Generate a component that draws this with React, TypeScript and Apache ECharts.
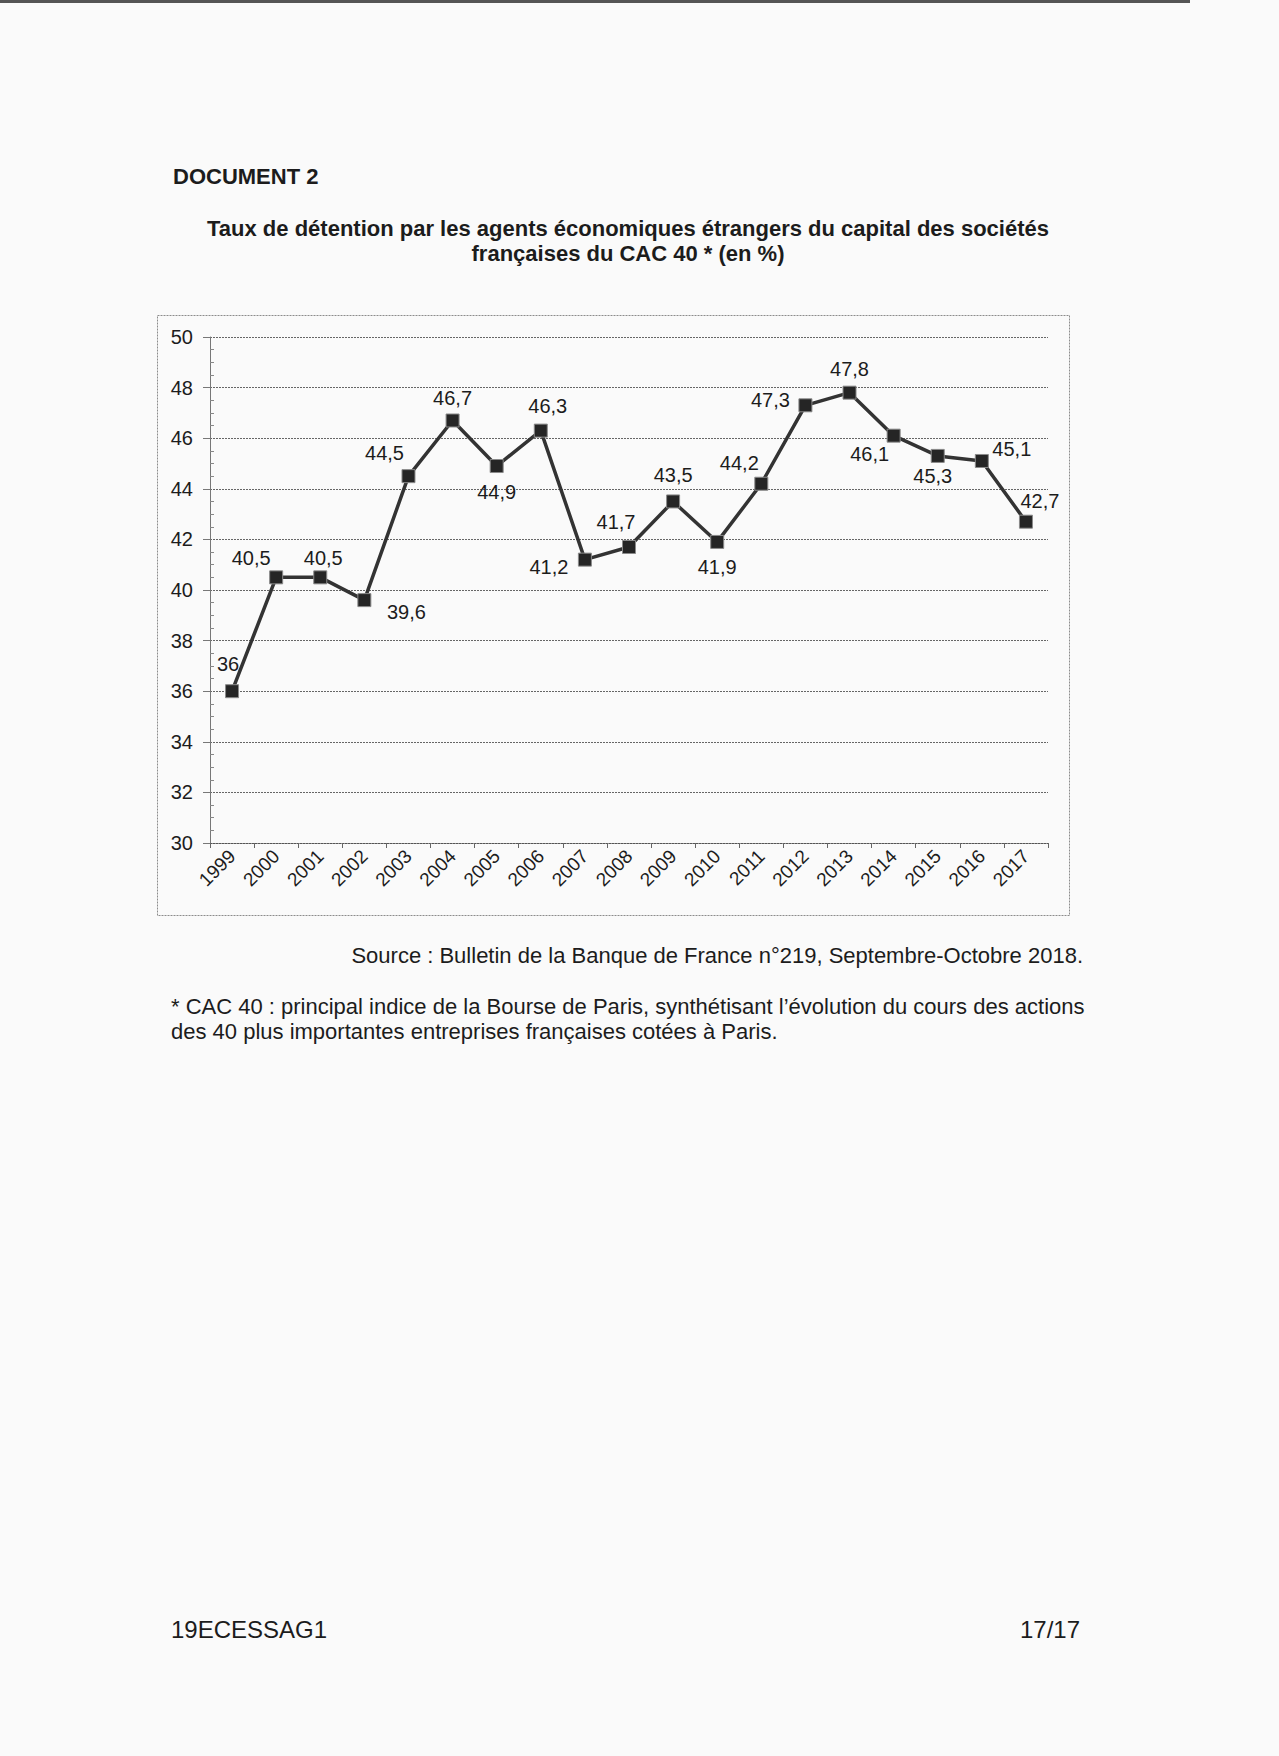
import React, { useEffect, useRef } from "react";
import * as echarts from "echarts";

const years = ["1999","2000","2001","2002","2003","2004","2005","2006","2007","2008","2009","2010","2011","2012","2013","2014","2015","2016","2017"];
const values = [36, 40.5, 40.5, 39.6, 44.5, 46.7, 44.9, 46.3, 41.2, 41.7, 43.5, 41.9, 44.2, 47.3, 47.8, 46.1, 45.3, 45.1, 42.7];
const labelOffsets: [number, number][] = [
  [-4, -27], [-25, -19], [3, -19], [42, 12], [-24, -23], [0, -22], [0, 26], [7, -25],
  [-36, 7], [-13, -25], [0, -26], [0, 25], [-22, -21], [-35, -5], [0, -24], [-24, 18],
  [-5, 20], [30, -12], [14, -21],
];
const yTicks = { min: 30, max: 50, interval: 2 };

const FONT = "'Liberation Sans', Arial, sans-serif";
const TXT = "#1c1c1c";

export default function App() {
  const ref = useRef<HTMLDivElement>(null);
  useEffect(() => {
    if (!ref.current) return;
    const chart = echarts.init(ref.current, undefined, { renderer: "svg" });
    const fmt = (v: number) => String(v).replace(".", ",");
    chart.setOption({
      animation: false,
      backgroundColor: "#fafafa",
      textStyle: { fontFamily: FONT },
      grid: { left: 210, top: 337, width: 838, height: 506, containLabel: false },
      xAxis: {
        type: "category",
        data: years,
        boundaryGap: true,
        axisLine: { lineStyle: { color: "#555", width: 1, type: [2, 1] } },
        axisTick: { show: true, length: 5, lineStyle: { color: "#666" } },
        axisLabel: { rotate: 45, fontSize: 19, color: TXT, margin: 10, fontFamily: FONT, interval: 0 },
        splitLine: { show: false },
      },
      yAxis: {
        type: "value",
        min: yTicks.min,
        max: yTicks.max,
        interval: yTicks.interval,
        axisLine: { show: true, lineStyle: { color: "#777", width: 1 } },
        axisTick: { show: true, length: 7, lineStyle: { color: "#777" } },
        minorTick: { show: true, splitNumber: 4, length: -4, lineStyle: { color: "#888" } },
        axisLabel: { fontSize: 20, color: TXT, margin: 17, fontFamily: FONT },
        splitLine: { show: true, lineStyle: { color: "#666", width: 1, type: [2, 1] } },
      },
      series: [
        {
          type: "line",
          data: values.map((v, i) => ({
            value: v,
            label: { offset: labelOffsets[i] },
          })),
          symbol: "rect",
          symbolSize: 13,
          lineStyle: { color: "#333", width: 3.5 },
          itemStyle: { color: "#252525", borderColor: "#8a8a8a", borderWidth: 1 },
          label: {
            show: true,
            position: "inside",
            align: "center",
            verticalAlign: "middle",
            fontSize: 20,
            color: TXT,
            fontFamily: FONT,
            formatter: (p: any) => fmt(p.value),
          },
          z: 3,
        },
      ],
      graphic: [
        { type: "rect", shape: { x: 0, y: 0, width: 1190, height: 3 }, style: { fill: "#555" } },
        {
          type: "rect",
          shape: { x: 157.5, y: 315.5, width: 912, height: 600 },
          style: { fill: "none", stroke: "#8c8c8c", lineWidth: 1, lineDash: [2, 1] },
          z: -1,
        },
        {
          type: "text", x: 173, y: 176,
          style: { text: "DOCUMENT 2", font: `bold 22px ${FONT}`, fill: TXT, textAlign: "left", textVerticalAlign: "middle" },
        },
        {
          type: "text", x: 628, y: 228,
          style: { text: "Taux de détention par les agents économiques étrangers du capital des sociétés", font: `bold 22px ${FONT}`, fill: TXT, textAlign: "center", textVerticalAlign: "middle" },
        },
        {
          type: "text", x: 628, y: 253,
          style: { text: "françaises du CAC 40 * (en %)", font: `bold 22px ${FONT}`, fill: TXT, textAlign: "center", textVerticalAlign: "middle" },
        },
        {
          type: "text", x: 1083, y: 955,
          style: { text: "Source : Bulletin de la Banque de France n°219, Septembre-Octobre 2018.", font: `22px ${FONT}`, fill: TXT, textAlign: "right", textVerticalAlign: "middle" },
        },
        {
          type: "text", x: 171, y: 1006,
          style: { text: "* CAC 40 : principal indice de la Bourse de Paris, synthétisant l’évolution du cours des actions", font: `22px ${FONT}`, fill: TXT, textAlign: "left", textVerticalAlign: "middle" },
        },
        {
          type: "text", x: 171, y: 1031,
          style: { text: "des 40 plus importantes entreprises françaises cotées à Paris.", font: `22px ${FONT}`, fill: TXT, textAlign: "left", textVerticalAlign: "middle" },
        },
        {
          type: "text", x: 171, y: 1629,
          style: { text: "19ECESSAG1", font: `24px ${FONT}`, fill: TXT, textAlign: "left", textVerticalAlign: "middle" },
        },
        {
          type: "text", x: 1080, y: 1629,
          style: { text: "17/17", font: `24px ${FONT}`, fill: TXT, textAlign: "right", textVerticalAlign: "middle" },
        },
      ],
    });
    return () => chart.dispose();
  }, []);
  return (
    <div
      ref={ref}
      style={{ position: "absolute", left: 0, top: 0, width: 1279, height: 1756 }}
    />
  );
}
